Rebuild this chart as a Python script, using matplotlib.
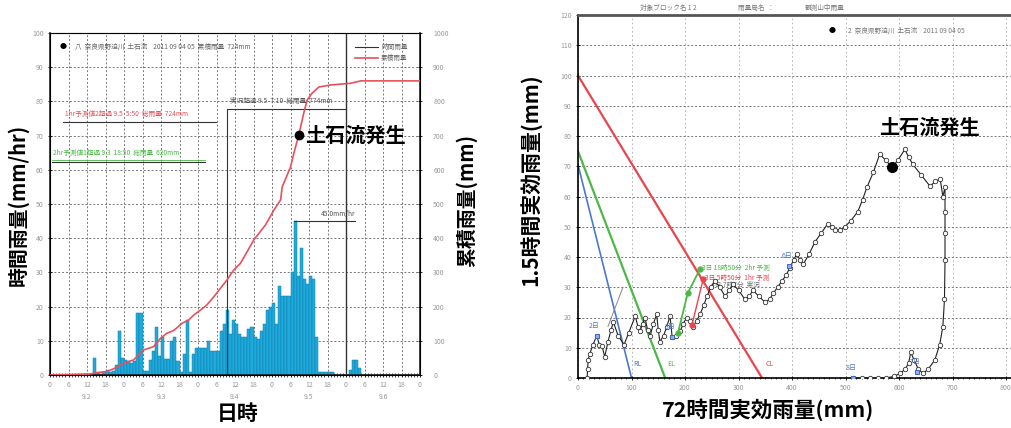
import matplotlib
matplotlib.use('Agg')
import matplotlib.pyplot as plt
import numpy as np

plt.rcParams['font.family'] = ['Noto Sans CJK JP', 'DejaVu Sans']

# ---------------- data: left chart ----------------
hourly_rain = [
    0, 0, 0, 0, 0, 0, 0, 0, 0, 0, 0, 0, 0, 0,          # 0-13
    5, 0.5, 0.3, 0.8, 1.5, 0.8, 1.2, 3, 13, 5,          # 14-23
    4.5, 4, 3.5, 4, 18, 18, 1.2, 1.2, 4.5, 7,           # 24-33
    14, 5.5, 11, 4.6, 4.6, 10, 11, 4, 1, 6,             # 34-43
    16, 1, 6, 8, 8, 8, 8, 10, 7, 7,                     # 44-53
    7, 13, 15, 19, 12, 16, 15, 12, 11, 11,              # 54-63
    13.5, 14, 11, 10.5, 13, 15, 19, 20, 21, 15,         # 64-73
    26, 23, 23, 23, 30, 45, 29, 37, 28, 26.5,           # 74-83
    29, 28, 11, 1, 1, 1, 1, 1, 0, 0,                    # 84-93
    0, 0, 0, 1.5, 4.5, 4.5, 2, 0, 0, 0,                 # 94-103
    0, 0, 0, 0, 0, 0, 0, 0, 0, 0, 0, 0, 0, 0, 0, 0      # 104-119
]
cum_hours = [0, 13, 15.2, 18.4, 21.1, 23.8, 27.1, 30.3, 33.6, 35.8, 37.9, 40.1,
             42.8, 45, 46.6, 48.8, 50.9, 53.6, 57.4, 59.6, 61.8, 66.1, 69.9,
             72.6, 74.8, 75.3, 78, 79.1, 80.7, 82.3, 83.4, 85, 87.2, 91, 97.5,
             100.8, 120]
cum_rain = [0, 3, 7, 10, 20, 34, 44, 73, 83, 107, 122, 130,
            151, 161, 175, 190, 205, 234, 278, 307, 327, 395, 439,
            482, 512, 550, 608, 649, 702, 766, 804, 824, 842, 848, 853,
            860, 860]
hour_tick_labels = ['0', '6', '12', '18'] * 5 + ['0']
date_labels = ['9.2', '9.3', '9.4', '9.5', '9.6']
event_hour, event_cum = 80.7, 702
peak_hour, peak_rate = 79, 45.0

# ---------------- data: right chart (snake) ----------------
cl_x, cl_y = [0, 344], [100, 0]
el_x, el_y = [0, 163], [75, 0]
rl_x, rl_y = [0, 100], [70.5, 0]
snake_x = [17, 18, 19, 22, 28, 35, 40, 45, 50, 56, 62, 66, 75, 86, 95, 107, 112,
           116, 121, 125, 130, 135, 141, 147, 150, 153, 160, 166, 172, 176, 184,
           191, 197, 203, 209, 215, 222, 228, 235, 241, 248, 256, 265, 275, 283,
           290, 300, 312, 320, 327, 338, 350, 358, 365, 373, 381, 389, 396, 403,
           409, 415, 421, 432, 443, 455, 467, 474, 480, 490, 499, 510, 523, 532,
           540, 552, 564, 575, 587, 598, 611, 618, 626, 642, 658, 668, 677, 682,
           686, 686, 686, 686, 685, 682, 676, 667, 655, 645, 636, 628, 622, 618,
           612, 602, 590, 575, 560, 545, 530, 514]
snake_y = [0, 3, 6, 8, 11, 14, 11, 10.5, 7, 12, 16, 18.5, 14, 11, 15, 20.5, 17,
           15.5, 18, 20, 16, 14, 18, 21, 16, 12, 14, 17, 20.5, 13.5, 14,
           15.5, 18, 20, 19, 17, 19, 21, 24, 27, 30, 32, 30, 27, 29,
           31, 29, 26, 27, 29, 27, 25, 26, 28, 30, 32, 34, 36.5, 39,
           41, 39, 37.6, 41, 45, 48, 51, 50, 49, 49, 50, 52, 55, 59,
           63, 68, 74, 72, 69.6, 72, 75.6, 73, 70.6, 67, 63.4, 65, 65.7, 60,
           63, 55, 48, 39, 26, 17, 11, 6, 3, 1.5, 3, 6, 8.5, 5,
           3, 1.5, 0.5, 0, 0, 0, 0, 0]
branch_x, branch_y = [56, 84], [17, 30]
event_x, event_y = 587, 69.6
green_fc_x, green_fc_y = [187, 205, 228], [15, 28, 36]
red_fc_x, red_fc_y = [213, 234], [17.5, 32.7]
day_pts_x = [35, 176, 394, 514, 634]
day_pts_y = [14, 13.5, 37, 0, 2]
day_pts_lab = ['2日', '3日', '6日', '8日', '7日']

W, H = 1011, 428
fig = plt.figure(figsize=(W / 100, H / 100), dpi=100)
fig.patch.set_facecolor('white')

def fx(px):
    return px / W

def fy(py):
    return 1 - py / H

grid_kw = dict(color='#777777', lw=0.7, linestyle=(0, (2, 2)))
tick_font = dict(fontsize=5, color='#999999')

# ================= LEFT CHART =================
ax1 = fig.add_axes([fx(50), fy(375), (420 - 50) / W, (375 - 33) / H])
hours = np.arange(len(hourly_rain))
ax1.bar(hours, hourly_rain, width=1.0, align='edge', color='#1eaadc',
        edgecolor='#147ea8', linewidth=0.35, zorder=2)
ax1.set_xlim(0, 120)
ax1.set_ylim(0, 100)
ax1.set_xticks(np.arange(0, 121, 6))
ax1.set_xticklabels(hour_tick_labels, **tick_font)
ax1.set_xticks(np.arange(0, 121, 1), minor=True)
ax1.set_yticks(np.arange(0, 101, 10))
ax1.set_yticklabels([str(v) for v in range(0, 101, 10)], **tick_font)
ax1.tick_params(axis='both', which='major', length=3, width=0.6, direction='inout', pad=3)
ax1.tick_params(axis='x', which='minor', length=3, width=0.5, direction='inout')
ax1.grid(True, which='major', **grid_kw)
ax1.set_axisbelow(True)
for s in ['left', 'bottom', 'right']:
    ax1.spines[s].set_linewidth(1.2)
    ax1.spines[s].set_color('#222222')
ax1.spines['top'].set_color('#999999')
ax1.spines['top'].set_linewidth(0.8)
for i, d in enumerate(date_labels):
    ax1.text(12 + 24 * i, -0.065, d, transform=ax1.get_xaxis_transform(),
             ha='center', va='center', **tick_font)

ax1r = ax1.twinx()
ax1r.set_ylim(0, 1000)
ax1r.set_yticks(np.arange(0, 1001, 100))
ax1r.set_yticklabels([str(v) for v in range(0, 1001, 100)], **tick_font)
ax1r.tick_params(axis='y', length=3, width=0.6, direction='inout', pad=8)
ax1r.plot(cum_hours, cum_rain, color='#e8505b', lw=1.2, zorder=3)
ax1r.plot([event_hour], [event_cum], 'o', color='black', ms=6, zorder=5)
ax1r.text(event_hour + 2, event_cum, '土石流発生', fontsize=14.5, fontweight='bold',
          ha='left', va='center', zorder=6)

# threshold lines / annotations
ax1r.plot([4.2, 54], [740, 740], color='#333333', lw=0.8)
ax1r.text(5, 752, '1hr予測値2超過 9.5  5:50  総雨量  724mm', fontsize=4.8,
          color='#e8505b', ha='left', va='bottom')
ax1r.plot([0.6, 50.3], [623, 623], color='#333333', lw=0.8)
ax1r.plot([0.6, 50.3], [628, 628], color='#4cb848', lw=0.6)
ax1r.text(1, 638, '2hr予測値1超過 9.3  18:50  総雨量  620mm', fontsize=4.8,
          color='#4cb848', ha='left', va='bottom')
ax1r.plot([57.4, 57.4, 96], [0, 778, 778], color='#333333', lw=0.8)
ax1r.plot([96, 96], [0, 1000], color='#333333', lw=1.0)
ax1r.text(58.5, 790, '実況超過 9.5  7:10  総雨量  774mm', fontsize=4.8,
          color='#555555', ha='left', va='bottom')
ax1.plot([peak_hour, 99], [peak_rate, peak_rate], color='#333333', lw=0.8)
ax1.text(88, peak_rate + 1, '45.0mm/hr', fontsize=4.8, color='#555555',
         ha='left', va='bottom')

# legend / header inside left chart
fig.text(fx(63), fy(47), '●', fontsize=5, ha='center', va='center')
fig.text(fx(75), fy(47), '八  奈良県野迫川  土石流    2011 09 04 05  累積雨量  724mm',
         fontsize=4.8, color='#666666', ha='left', va='center')
fig.add_artist(plt.Line2D([fx(355), fx(378)], [fy(47), fy(47)], color='#333333', lw=0.8))
fig.add_artist(plt.Line2D([fx(355), fx(378)], [fy(58), fy(58)], color='#e8505b', lw=1.2))
fig.text(fx(381), fy(47), '時間雨量', fontsize=4.8, color='#666666', va='center')
fig.text(fx(381), fy(58), '累積雨量', fontsize=4.8, color='#666666', va='center')

fig.text(fx(18), fy(205), '時間雨量(mm/hr)', rotation=90, fontsize=14.3,
         fontweight='bold', ha='center', va='center')
fig.text(fx(466), fy(200), '累積雨量(mm)', rotation=90, fontsize=14.3,
         fontweight='bold', ha='center', va='center')
fig.text(fx(238), fy(413), '日時', fontsize=15, fontweight='bold',
         ha='center', va='center')

# ================= RIGHT CHART =================
ax2_right_px = 1020
ax2 = fig.add_axes([fx(578), fy(378), (ax2_right_px - 578) / W, (378 - 15) / H])
ax2.set_xlim(0, (ax2_right_px - 578) / 0.535)
ax2.set_ylim(0, 120)
ax2.set_xticks(np.arange(0, 801, 100))
ax2.set_xticklabels([str(v) for v in range(0, 801, 100)], **tick_font)
ax2.set_xticks(np.arange(0, 821, 10), minor=True)
ax2.set_yticks(np.arange(0, 121, 10))
ax2.set_yticklabels([str(v) for v in range(0, 121, 10)], **tick_font)
ax2.tick_params(axis='both', which='major', length=3, width=0.6, direction='inout', pad=3)
ax2.tick_params(axis='x', which='minor', length=2, width=0.5, direction='inout')
ax2.grid(True, which='major', axis='y', **grid_kw)
ax2.grid(True, which='major', axis='x', color='#aaaaaa', lw=0.6, linestyle=(0, (2, 3)))
ax2.set_axisbelow(True)
ax2.spines['left'].set_linewidth(1.2)
ax2.spines['bottom'].set_linewidth(1.2)
ax2.spines['top'].set_linewidth(2.0)
ax2.spines['top'].set_color('#555555')
ax2.spines['right'].set_visible(False)

ax2.plot(cl_x, cl_y, color='#e8454f', lw=1.6)
ax2.plot(el_x, el_y, color='#4cb848', lw=1.6)
ax2.plot(rl_x, rl_y, color='#4a78d0', lw=1.2)
ax2.text(cl_x[1] + 6, 4, 'CL', fontsize=5, color='#e8454f')
ax2.text(el_x[1] + 3, 4, 'EL', fontsize=5, color='#4cb848')
ax2.text(rl_x[1] + 3, 4, 'RL', fontsize=5, color='#4a78d0')

ax2.plot(branch_x, branch_y, color='#888888', lw=0.7)
ax2.plot(snake_x, snake_y, color='#222222', lw=0.8, marker='o', ms=3.2,
         mfc='white', mec='#333333', mew=0.6, zorder=4)
ax2.plot([event_x], [event_y], 'o', color='black', ms=7, zorder=6)

ax2.plot(green_fc_x, green_fc_y, color='#4cb848', lw=1.3, marker='o', ms=3.5, zorder=5)
ax2.plot(red_fc_x, red_fc_y, color='#e8454f', lw=1.0, marker='o', ms=3.5, zorder=5)
ax2.text(232, 36.5, '3日 18時50分  2hr 予測', fontsize=4.8, color='#4cb848', va='center')
ax2.text(238, 33.2, '3日 5時50分  1hr 予測', fontsize=4.8, color='#e8454f', va='center')
ax2.text(248, 30.6, '4日 7時7分  実況', fontsize=4.8, color='#777777', va='center')

ax2.plot(day_pts_x, day_pts_y, 's', ms=3.5, mfc='#8fb0e8', mec='#3b66c4',
         mew=0.7, linestyle='none', zorder=7)
for x, y, t in zip(day_pts_x, day_pts_y, day_pts_lab):
    ax2.text(x - 4, y + 2, t, fontsize=5, color='#4a78d0', ha='center', va='bottom', zorder=7)

ax2.text(563, 83, '土石流発生', fontsize=14.5, fontweight='bold', ha='left', va='center')

fig.text(fx(640), fy(8), '対象ブロック名 1 2', fontsize=4.8, color='#777777', va='center')
fig.text(fx(738), fy(8), '雨量局名  ：', fontsize=4.8, color='#777777', va='center')
fig.text(fx(805), fy(8), '観測山中雨量', fontsize=4.8, color='#777777', va='center')
fig.text(fx(832), fy(31), '●', fontsize=5, ha='center', va='center')
fig.text(fx(848), fy(31), '2  奈良県野迫川  土石流    2011 09 04 05',
         fontsize=4.8, color='#777777', va='center')

fig.text(fx(531), fy(180), '1.5時間実効雨量(mm)', rotation=90, fontsize=15,
         fontweight='bold', ha='center', va='center')
fig.text(fx(768), fy(410), '72時間実効雨量(mm)', fontsize=15.5, fontweight='bold',
         ha='center', va='center')

fig.savefig('out.png', dpi=100, facecolor='white')
